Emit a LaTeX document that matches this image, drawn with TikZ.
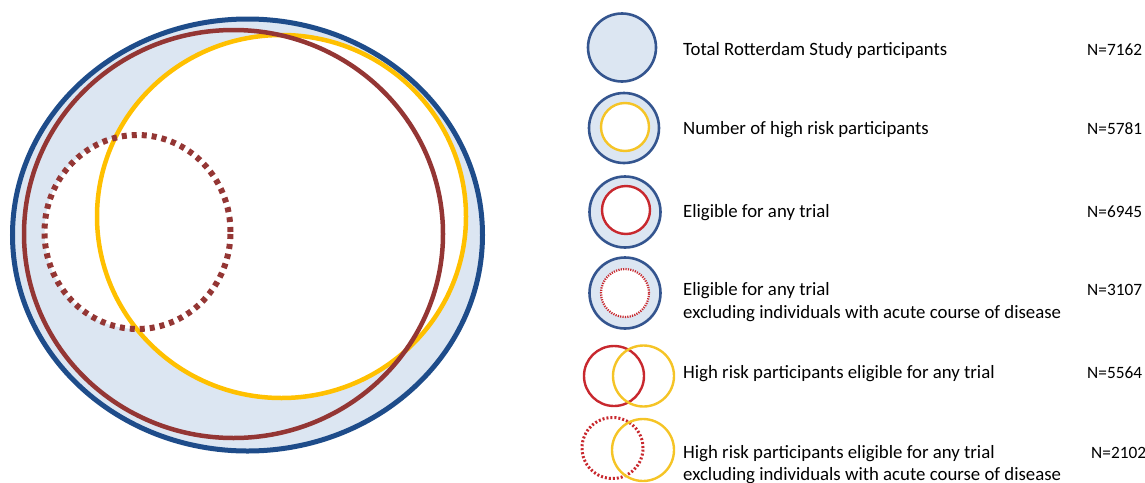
\documentclass[tikz,border=0pt]{standalone}
\usepackage{fontspec}
\setmainfont{Carlito}
\definecolor{setfill}{HTML}{DCE6F2}
\definecolor{setblue}{HTML}{1E4C8A}
\definecolor{setred}{HTML}{943634}
\definecolor{setyellow}{HTML}{FFC000}
\definecolor{keyblue}{HTML}{34558F}
\definecolor{keyred}{HTML}{C8282E}
\definecolor{keyyellow}{HTML}{F5C426}
\begin{document}
\begin{tikzpicture}[x=1pt,y=-1pt,
  label/.style={anchor=base west,inner sep=0pt,font=\fontsize{18.8}{23}\selectfont},
  count/.style={anchor=base west,inner sep=0pt,font=\fontsize{17.3}{21}\selectfont},
  bigblue/.style={draw=setblue,line width=5pt},
  bigred/.style={draw=setred,line width=4.5pt},
  bigyellow/.style={draw=setyellow,line width=4.5pt},
  bigdots/.style={draw=setred,line width=6pt,dash pattern=on 5pt off 5pt},
  keyring/.style={draw=keyblue,fill=setfill,line width=2.6pt},
  keyredline/.style={draw=keyred,line width=2.4pt},
  keyyelline/.style={draw=keyyellow,line width=2.4pt},
  keyfinedots/.style={draw=keyred,line width=2.2pt,dash pattern=on 1.2pt off 1.2pt},
  keydots/.style={draw=keyred,line width=3pt,dash pattern=on 2pt off 2pt}]
\useasboundingbox (0,0) rectangle (1145,482);

% nested sets
\fill[setfill] (247.5,235) ellipse [x radius=235pt, y radius=216pt];
\fill[white] (281.5,216.5) ellipse [x radius=184.5pt, y radius=181.5pt];
\fill[white] (137.5,232) ellipse [x radius=93pt, y radius=97pt];
\draw[bigblue] (247.5,235) ellipse [x radius=235pt, y radius=216pt];
\draw[bigyellow] (281.5,216.5) ellipse [x radius=184.5pt, y radius=181.5pt];
\draw[bigred] (233.5,234) ellipse [x radius=209.5pt, y radius=204pt];
\draw[bigdots] (137.5,232) ellipse [x radius=93pt, y radius=97pt];

% key symbols
\draw[keyring] (622,47.5) circle (34pt);
\draw[keyring] (624,128) circle (35pt);
\fill[white] (625,127) circle (24pt);
\draw[keyyelline] (625,127) circle (24pt);
\draw[keyring] (625,212) circle (35.5pt);
\fill[white] (626,210) circle (24pt);
\draw[keyredline] (626,210) circle (24pt);
\draw[keyring] (625,293) circle (35.5pt);
\fill[white] (625,293) circle (24pt);
\draw[keyfinedots] (625,293) circle (24pt);
\draw[keyredline] (614,376) circle (30pt);
\draw[keyyelline] (643.5,376) circle (30.5pt);
\draw[keydots] (612.5,448) circle (30.5pt);
\draw[keyyelline] (643,450) circle (31pt);

% key texts
\node[label] (t1) at (683,55) {Total Rotterdam Study participants};
\node[label] (t2) at (683,134) {Number of high risk participants};
\node[label] (t3) at (683,217) {Eligible for any trial};
\node[label] (t4) at (683,295) {Eligible for any trial};
\node[label] (t4b) at (683,318) {excluding individuals with acute course of disease};
\node[label] (t5) at (683,378) {High risk participants eligible for any trial};
\node[label] (t6) at (683,458) {High risk participants eligible for any trial};
\node[label] (t6b) at (683,480) {excluding individuals with acute course of disease};

\node[count] (n1) at (1087,55) {N=7162};
\node[count] (n2) at (1087,134) {N=5781};
\node[count] (n3) at (1087,217) {N=6945};
\node[count] (n4) at (1087,295) {N=3107};
\node[count] (n5) at (1087,378) {N=5564};
\node[count] (n6) at (1091,458) {N=2102};
\end{tikzpicture}
\end{document}
